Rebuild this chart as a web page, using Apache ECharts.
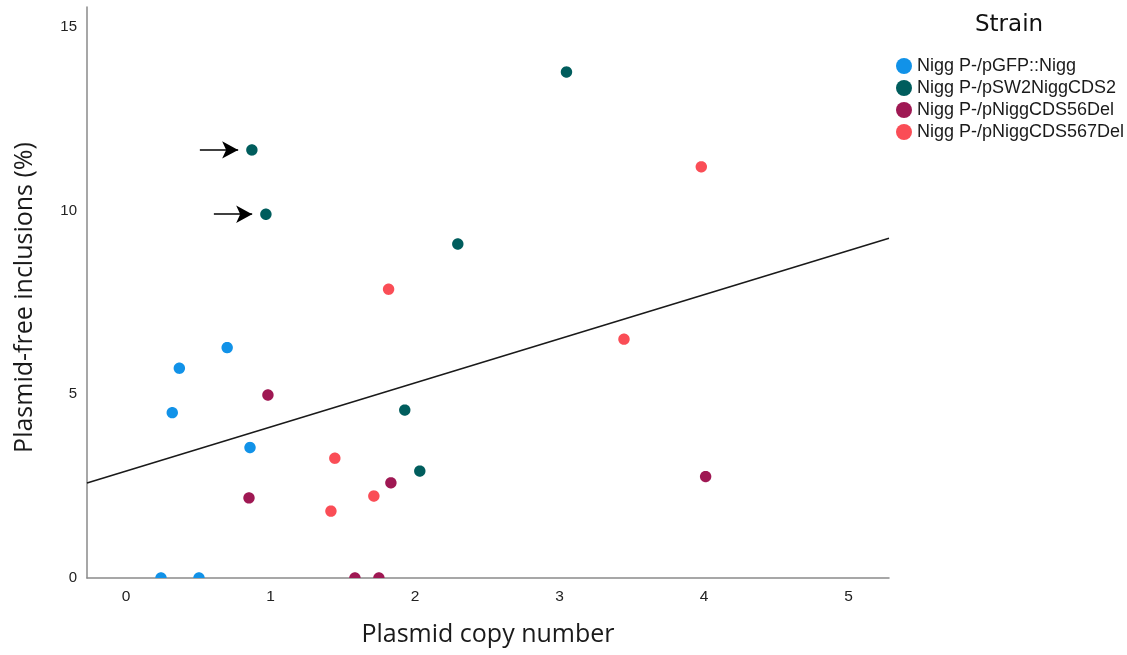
<!DOCTYPE html>
<html>
<head>
<meta charset="utf-8">
<script src="https://cdn.jsdelivr.net/npm/echarts@6/dist/echarts.min.js"></script>
<style>
  html, body { margin: 0; padding: 0; background: #fff; }
  #chart { width: 1127px; height: 655px; }
</style>
</head>
<body>
<div id="chart"></div>
<script>
// Strain groups and their colours
const strainNames = [
  'Nigg P-/pGFP::Nigg',
  'Nigg P-/pSW2NiggCDS2',
  'Nigg P-/pNiggCDS56Del',
  'Nigg P-/pNiggCDS567Del'
];
const strainColors = ['#1192e8', '#005d5d', '#9f1853', '#fa4d56'];

// [plasmid copy number, plasmid-free inclusions (%)] per strain
const gfpNigg = [[0.242, 0], [0.505, 0], [0.320, 4.50], [0.369, 5.71], [0.700, 6.27], [0.858, 3.55]];
const sw2NiggCDS2 = [[0.871, 11.65], [0.968, 9.90], [2.296, 9.09], [3.048, 13.77], [1.929, 4.57], [2.033, 2.91]];
const niggCDS56Del = [[0.982, 4.98], [0.851, 2.18], [1.584, 0], [1.750, 0], [1.833, 2.59], [4.011, 2.76]];
const niggCDS567Del = [[1.817, 7.86], [1.445, 3.26], [1.418, 1.82], [1.715, 2.23], [3.446, 6.50], [3.981, 11.19]];
const strainData = [gfpNigg, sw2NiggCDS2, niggCDS56Del, niggCDS567Del];

// Points flagged with arrows (index into sw2NiggCDS2)
const flaggedPoints = [0, 1];

// Linear fit over all strains
const fitIntercept = 2.91;
const fitSlope = 1.20;

// Axis extents and tick labels
const xRange = [-0.27, 5.28];
const yRange = [0, 15.54];
const xTicks = [0, 1, 2, 3, 4, 5];
const yTicks = [0, 5, 10, 15];

const chart = echarts.init(document.getElementById('chart'));

const fitLine = xRange.map(x => [x, fitIntercept + fitSlope * x]);

const arrowLines = flaggedPoints.map(i => {
  const p = sw2NiggCDS2[i];
  return [
    { coord: [p[0] - 0.36, p[1]] },
    { coord: [p[0] - 0.095, p[1]] }
  ];
});

// Dot outline clamped to the plot rectangle, so markers sitting on an
// axis show only the part inside the plot (e.g. the zero values).
const dotRadius = 5.7;
function clippedDot(cx, cy, r, rect) {
  const pts = [];
  const n = 48;
  for (let i = 0; i < n; i++) {
    const a = (i / n) * Math.PI * 2;
    let px = cx + r * Math.cos(a);
    let py = cy + r * Math.sin(a);
    px = Math.min(Math.max(px, rect.x), rect.x + rect.width);
    py = Math.min(Math.max(py, rect.y), rect.y + rect.height);
    pts.push([px, py]);
  }
  return pts;
}

const scatterSeries = strainNames.map((name, k) => ({
  name: name,
  type: 'custom',
  data: strainData[k],
  encode: { x: 0, y: 1 },
  clip: false,
  itemStyle: { color: strainColors[k] },
  emphasis: { disabled: true },
  renderItem: (params, api) => {
    const pt = api.coord([api.value(0), api.value(1)]);
    return {
      type: 'polygon',
      shape: { points: clippedDot(pt[0], pt[1], dotRadius, params.coordSys) },
      style: { fill: strainColors[k] }
    };
  },
  z: 3
}));

const option = {
  animation: false,
  backgroundColor: '#fff',
  grid: { left: 87, right: 238, top: 7, bottom: 77, containLabel: false },
  graphic: [{
    type: 'text',
    left: 975,
    top: 14,
    style: {
      text: 'Strain',
      font: '23px "DejaVu Sans"',
      fill: '#111'
    }
  }],
  legend: {
    orient: 'vertical',
    left: 896,
    top: 56,
    padding: 0,
    itemWidth: 16,
    itemHeight: 16,
    itemGap: 2,
    icon: 'circle',
    data: strainNames,
    textStyle: { fontFamily: 'Liberation Sans', fontSize: 18, color: '#1a1a1a', lineHeight: 20 }
  },
  xAxis: {
    type: 'value',
    min: xRange[0],
    max: xRange[1],
    name: 'Plasmid copy number',
    nameLocation: 'middle',
    nameGap: 44,
    nameTextStyle: { fontFamily: 'Open Sans', fontSize: 25, color: '#1a1a1a' },
    axisLine: { show: true, onZero: false, lineStyle: { color: '#8a8a8a', width: 1.5 } },
    axisTick: { show: false },
    splitLine: { show: false },
    axisLabel: {
      customValues: xTicks,
      margin: 11,
      fontFamily: 'Liberation Sans',
      fontSize: 15.5,
      color: '#222'
    }
  },
  yAxis: {
    type: 'value',
    min: yRange[0],
    max: yRange[1],
    name: 'Plasmid-free inclusions (%)',
    nameLocation: 'middle',
    nameGap: 50,
    nameTextStyle: { fontFamily: 'Open Sans', fontSize: 25, color: '#1a1a1a', padding: [0, 10, 0, 0] },
    axisLine: { show: true, onZero: false, lineStyle: { color: '#8a8a8a', width: 1.5 } },
    axisTick: { show: false },
    splitLine: { show: false },
    axisLabel: {
      customValues: yTicks,
      margin: 10,
      fontFamily: 'Liberation Sans',
      fontSize: 15,
      color: '#222'
    }
  },
  series: [
    {
      name: 'fit',
      type: 'line',
      data: fitLine,
      showSymbol: false,
      silent: true,
      lineStyle: { color: '#1a1a1a', width: 1.6 },
      z: 1,
      markLine: {
        silent: true,
        symbol: ['none', 'arrow'],
        symbolSize: [13, 16],
        label: { show: false },
        lineStyle: { color: '#000', width: 1.6, type: 'solid' },
        emphasis: { disabled: true },
        data: arrowLines
      }
    },
    ...scatterSeries
  ]
};

chart.setOption(option);
</script>
</body>
</html>
